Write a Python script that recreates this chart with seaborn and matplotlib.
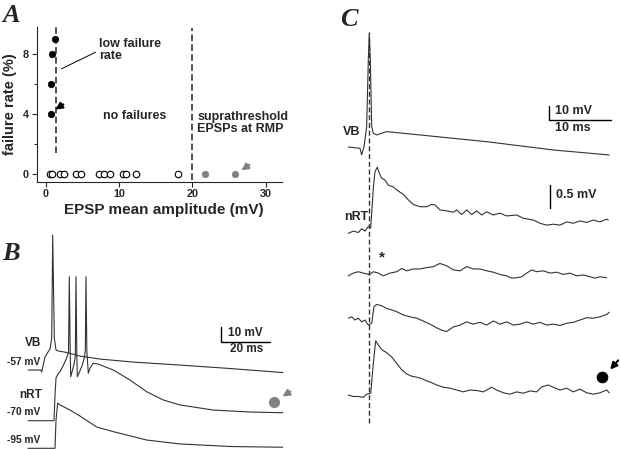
import matplotlib
matplotlib.use("Agg")
import matplotlib.pyplot as plt
import seaborn as sns

sns.set_style("ticks")
plt.rcParams["font.family"] = ["Liberation Sans", "DejaVu Sans"]
plt.rcParams["font.weight"] = "bold"
plt.rcParams["axes.labelweight"] = "bold"

# ---------------- panel A: failure rate vs EPSP amplitude ----------------
low_amp = [1.3, 0.8, 0.7, 0.7]
low_rate = [9, 8, 6, 4]
nofail_amp = [0.6, 0.8, 1.9, 2.5, 4.1, 4.8, 7.3, 7.9, 8.8, 10.6, 11.0, 12.3, 18.1]
supra_amp = [21.8, 25.8]
low_fail_cut = 1.4
supra_cut = 20

# ---------------- panel B: VB and nRT responses (ms, mV from baseline) ----------------
vb_b_t = [0, 5.31, 5.59, 6.12, 6.94, 8.16, 8.98, 9.67, 10.08, 10.73, 11.43, 12.37,
          15.8, 21.2, 29.4, 42.9, 62.0, 82.4, 104.0]
vb_b_v = [0, 0, -1.3, 2.7, 8.7, 12.0, 14.0, 21.3, 90.0, 21.3, 13.3, 12.7,
          11.7, 9.3, 7.3, 5.3, 3.3, 1.0, -1.7]

nrt70_t = [0, 10.61, 11.02, 11.43, 12.37, 13.06, 14.29, 15.80, 16.53, 16.86, 17.22, 17.43,
           17.96, 18.78, 19.31, 19.59, 19.92, 20.12, 20.82, 22.04, 23.06, 23.39, 23.67, 24.0,
           24.61, 25.31, 26.65, 28.57, 34.82, 41.63, 48.45, 55.22, 62.04, 75.63, 90.61, 103.96]
nrt70_v = [0, 0, 17.1, 28.5, 31.6, 32.7, 36.5, 41.8, 45.8, 96.0, 45.8, 29.3,
           32.5, 37.8, 43.1, 96.0, 43.1, 29.3, 31.8, 36.5, 42.5, 47.1, 96.0, 47.1,
           31.6, 35.1, 38.3, 37.8, 33.8, 27.1, 19.3, 13.8, 10.5, 7.1, 5.8, 5.3]

nrt95_t = [0, 11.02, 11.43, 12.12, 13.06, 17.14, 21.22, 28.04, 34.82, 48.45, 62.04, 82.45, 103.96]
nrt95_v = [0, 0, 18.9, 30.2, 28.9, 25.5, 21.5, 14.2, 11.1, 5.5, 2.9, 1.2, 0.7]

# ---------------- panel C: single VB spike and nRT EPSPs ----------------
vb_c_t = [-3.39, -1.5, -1.23, -0.85, -0.42, -0.16, 0.0, 0.16, 0.39, 0.65, 1.19, 2.81,
          8.18, 18.94, 29.63, 38.71]
vb_c_v = [0.9, 0.0, -4.8, 1.1, 15.4, 63.1, 82.1, 63.1, 15.4, 10.7, 9.5, 11.9,
          9.5, 4.7, -1.2, -4.8]

c1_t = [-3.39, -2.58, -1.77, -1.23, -0.69, -0.16, 0.23, 0.65, 0.92, 1.29, 1.61, 2.0,
        2.53, 3.06, 3.87, 4.68, 5.48, 6.29, 7.10, 8.18, 9.26, 10.06, 10.60, 11.40,
        12.48, 13.55, 14.10, 14.90, 15.71, 16.52, 17.32, 18.13, 18.94, 20.0, 21.08, 22.16,
        23.77, 24.84, 26.45, 27.53, 28.61, 29.68, 30.76, 31.84, 32.9, 33.98, 35.06, 36.13,
        37.21, 38.29, 38.55]
c1_v = [-0.03, 0.02, -0.01, 0.07, 0.02, 0.12, 0.09, 0.95, 1.31, 1.41, 1.28, 1.17,
        1.13, 1.02, 0.98, 0.89, 0.82, 0.70, 0.60, 0.55, 0.55, 0.60, 0.59, 0.48,
        0.46, 0.43, 0.48, 0.38, 0.48, 0.38, 0.46, 0.37, 0.44, 0.37, 0.41, 0.35,
        0.37, 0.30, 0.26, 0.19, 0.15, 0.17, 0.15, 0.22, 0.19, 0.24, 0.21, 0.26,
        0.22, 0.28, 0.26]

c2_t = [-3.39, -2.58, -1.77, -0.97, 0.0, 0.65, 1.45, 2.26, 3.34, 4.42, 5.23, 6.03,
        7.10, 8.18, 9.26, 10.32, 11.40, 12.48, 13.55, 14.63, 15.71, 16.77, 17.85, 18.94,
        20.0, 21.08, 22.16, 22.97, 23.77, 24.58, 25.39, 26.19, 27.0, 28.06, 29.15, 30.23,
        31.29, 32.37, 33.45, 34.52, 35.6, 36.4, 37.21, 38.29]
c2_v = [-0.04, 0.02, 0.05, 0.02, -0.01, 0.05, 0.02, -0.04, 0.02, 0.05, 0.12, 0.07,
        0.11, 0.11, 0.14, 0.16, 0.23, 0.18, 0.09, 0.07, 0.16, 0.11, 0.11, 0.07,
        0.04, -0.01, -0.04, -0.09, -0.08, -0.06, 0.02, 0.09, 0.05, 0.07, 0.02, 0.04,
        -0.01, 0.02, -0.04, -0.02, -0.06, -0.09, -0.06, -0.08]

c3_t = [-3.39, -2.84, -2.31, -1.77, -1.23, -0.69, -0.16, 0.39, 0.76, 1.19, 2.0, 2.81,
        3.61, 4.42, 5.48, 6.56, 7.63, 8.69, 9.79, 10.87, 11.68, 12.48, 13.55, 14.63,
        15.71, 16.77, 17.85, 18.94, 20.0, 21.08, 22.16, 23.23, 24.31, 25.39, 26.45, 27.53,
        28.61, 29.68, 30.76, 31.84, 32.9, 33.98, 35.06, 36.13, 37.21, 38.29, 38.71]
c3_v = [0.04, 0.07, 0.0, 0.04, -0.04, 0.0, -0.11, -0.07, 0.29, 0.34, 0.31, 0.25,
        0.22, 0.18, 0.11, 0.07, 0.04, -0.02, -0.09, -0.17, -0.22, -0.25, -0.15, -0.11,
        -0.04, -0.09, -0.05, -0.11, -0.02, -0.09, -0.04, -0.11, -0.09, -0.04, -0.09, -0.05,
        -0.11, -0.09, -0.12, -0.07, -0.05, 0.0, 0.05, 0.04, 0.07, 0.12, 0.17]

c4_t = [-3.39, -2.58, -1.77, -0.97, -0.42, 0.23, 0.65, 1.03, 1.45, 2.0, 2.81, 3.61,
        4.42, 5.23, 6.03, 6.84, 7.65, 8.45, 9.26, 10.06, 10.87, 11.94, 13.02, 14.1,
        15.16, 16.24, 17.32, 18.39, 19.74, 20.55, 21.61, 22.69, 23.77, 24.84, 25.92, 27.0,
        27.81, 28.87, 29.68, 30.76, 31.84, 32.9, 33.98, 35.06, 36.13, 37.21, 38.29, 38.71]
c4_v = [0.02, -0.01, -0.01, -0.03, 0.04, 0.06, 0.71, 1.20, 1.11, 1.01, 0.94, 0.85,
        0.71, 0.57, 0.48, 0.43, 0.41, 0.38, 0.33, 0.29, 0.24, 0.19, 0.17, 0.13,
        0.09, 0.13, 0.12, 0.09, 0.19, 0.13, 0.07, 0.04, 0.09, 0.06, 0.11, 0.09,
        0.20, 0.24, 0.19, 0.13, 0.17, 0.09, 0.15, 0.07, 0.04, 0.07, 0.13, 0.07]

trace_col = "#333333"
gray = "#808080"
arrow_kw = dict(arrowstyle="-|>", lw=1.5, mutation_scale=10)

fig = plt.figure(figsize=(6.21, 4.49), dpi=100)

# ---------------- A ----------------
axA = fig.add_axes([36.7 / 621, 1 - 181.7 / 449, 245 / 621, 155 / 449])
sns.scatterplot(x=low_amp, y=low_rate, ax=axA, color="black", s=22, edgecolor="black", linewidth=0.5, zorder=3)
sns.scatterplot(x=nofail_amp, y=[0] * len(nofail_amp), ax=axA, color="white", s=22,
                edgecolor="black", linewidth=0.8, zorder=3)
sns.scatterplot(x=supra_amp, y=[0] * len(supra_amp), ax=axA, color=gray, s=22, edgecolor=gray,
                linewidth=0.5, zorder=3)
axA.set_xlim(-1.23, 32.2)
axA.set_ylim(-0.51, 9.82)
axA.axvline(low_fail_cut, ymin=0.187, ymax=1.0, color="#222222", lw=1.1, ls=(0, (4.3, 2.2)))
axA.axvline(supra_cut, ymin=0.011, ymax=0.991, color="#222222", lw=1.1, ls=(0, (4.3, 2.2)))
axA.set_xticks([0, 10, 20, 30])
axA.set_yticks([0, 4, 8])
axA.set_yticks([2, 6], minor=True)
axA.tick_params(which="major", direction="out", length=3.5, width=0.8, labelsize=7.8, pad=2)
axA.tick_params(which="minor", direction="out", length=2, width=0.8)
for s in ["top", "right"]:
    axA.spines[s].set_visible(False)
for s in ["left", "bottom"]:
    axA.spines[s].set_linewidth(0.8)
axA.set_xlabel("EPSP mean amplitude (mV)", fontsize=11)
axA.xaxis.set_label_coords(0.52, -0.137)
axA.set_ylabel("failure rate (%)", fontsize=10.5)
axA.yaxis.set_label_coords(-0.08, 0.5)

axA.text(7.27, 9.1, "low failure\nrate", va="top", ha="left", fontsize=9, linespacing=1.0)
axA.annotate("", xy=(1.81, 6.93), xytext=(7.14, 8.2),
             arrowprops=dict(arrowstyle="-", color="black", lw=0.7))
axA.text(7.8, 3.87, "no failures", va="center", ha="left", fontsize=9)
axA.text(20.7, 3.43, "suprathreshold\nEPSPs at RMP", va="center", ha="left", fontsize=9, linespacing=1.0)
axA.annotate("", xy=(1.0, 4.2), xytext=(2.73, 4.75), arrowprops=dict(color="black", **arrow_kw))
axA.annotate("", xy=(26.4, 0.13), xytext=(28.1, 0.73), arrowprops=dict(color=gray, **arrow_kw))

# ---------------- B ----------------
axB = fig.add_axes([0, 0, 300 / 621, 221 / 449])
axB.axis("off")
axB.set_xlim(-11.43, 111.0)
axB.set_ylim(-0.47, 146.9)
off_vb, off_70, off_95 = 52.2, 18.4, 0.0
sns.lineplot(x=vb_b_t, y=[v + off_vb for v in vb_b_v], ax=axB, color=trace_col, lw=0.8,
             sort=False, estimator=None)
sns.lineplot(x=nrt70_t, y=[v + off_70 for v in nrt70_v], ax=axB, color=trace_col, lw=0.8,
             sort=False, estimator=None)
sns.lineplot(x=nrt95_t, y=[v + off_95 for v in nrt95_v], ax=axB, color=trace_col, lw=0.8,
             sort=False, estimator=None)
axB.text(5.6, 70.0, "VB", ha="right", va="center", fontsize=8.5)
axB.text(5.2, 57.3, "-57 mV", ha="right", va="center", fontsize=7.3)
axB.text(5.6, 35.5, "nRT", ha="right", va="center", fontsize=8.5)
axB.text(5.2, 24.4, "-70 mV", ha="right", va="center", fontsize=7.3)
axB.text(4.9, 5.5, "-95 mV", ha="right", va="center", fontsize=7.3)
# scale bar 10 mV / 20 ms
axB.plot([78.8, 78.8, 98.8], [81.1, 71.1, 71.1], color="black", lw=1.0)
axB.text(81.5, 77.1, "10 mV", ha="left", va="center", fontsize=8.5)
axB.text(89.3, 66.4, "20 ms", ha="center", va="center", fontsize=8.5)
sns.scatterplot(x=[100.4], y=[31.1], ax=axB, color=gray, s=55, edgecolor=gray, clip_on=False)
axB.annotate("", xy=(102.9, 33.5), xytext=(108.0, 38.9), arrowprops=dict(color=gray, **arrow_kw))

# ---------------- C ----------------
rectC = [320 / 621, 0, 301 / 621, 1]
axC1 = fig.add_axes(rectC)
axC2 = fig.add_axes(rectC)
for ax in (axC1, axC2):
    ax.axis("off")
    ax.set_xlim(-7.95, 40.6)
axC1.set_ylim(-214.8, 105.9)
axC2.set_ylim(-1.152, 8.609)

sns.lineplot(x=vb_c_t, y=vb_c_v, ax=axC1, color=trace_col, lw=0.8, sort=False, estimator=None)
axC1.text(-1.5, 11.9, "VB", ha="right", va="center", fontsize=9)
axC1.plot([28.94, 28.94, 38.94], [30.2, 20.2, 20.2], color="black", lw=1.0)
axC1.text(29.95, 26.6, "10 mV", ha="left", va="center", fontsize=9)
axC1.text(29.95, 14.3, "10 ms", ha="left", va="center", fontsize=9)

offsets_c = [3.565, 2.652, 1.652, 0.0]
for tt, vv, off in zip([c1_t, c2_t, c3_t, c4_t], [c1_v, c2_v, c3_v, c4_v], offsets_c):
    sns.lineplot(x=tt, y=[v + off for v in vv], ax=axC2, color=trace_col, lw=0.8,
                 sort=False, estimator=None)
axC2.axvline(0, ymin=0.058, ymax=0.929, color="#333333", lw=1.0, ls=(0, (3.6, 2.0)))
axC2.text(-0.2, 3.90, "nRT", ha="right", va="center", fontsize=9)
axC2.plot([29.15, 29.15], [4.08, 4.58], color="black", lw=1.0)
axC2.text(30.1, 4.37, "0.5 mV", ha="left", va="center", fontsize=9)
axC2.text(2.0, 3.02, "*", ha="center", va="center", fontsize=11)
sns.scatterplot(x=[37.48], y=[0.41], ax=axC2, color="black", s=60, edgecolor="black", clip_on=False)
axC2.annotate("", xy=(38.55, 0.53), xytext=(40.44, 0.82),
              arrowprops=dict(color="black", **arrow_kw), annotation_clip=False)

# panel letters
for letter, px, py in [("A", 2, 22), ("B", 2, 260), ("C", 340, 26)]:
    fig.text(px / 621, 1 - py / 449, letter, fontfamily="Liberation Serif", fontstyle="italic",
             fontweight="bold", fontsize=19, va="baseline", ha="left")

fig.savefig("out.png", dpi=100)
